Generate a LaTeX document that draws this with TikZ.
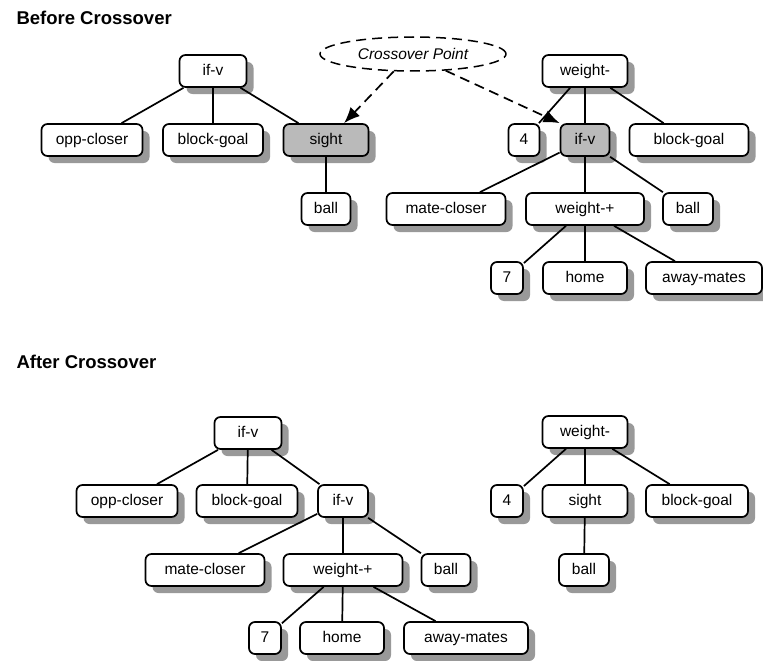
\documentclass[tikz,border=0pt]{standalone}
\usepackage{fontspec}
\setmainfont{Liberation Sans}
\usetikzlibrary{shapes.geometric,shadows,arrows.meta}

\begin{document}
\begin{tikzpicture}[x=1pt, y=-1pt,
    gpnode/.style={draw, line width=1.7pt, rounded corners=6pt, fill=white,
        minimum height=32pt, minimum width=#1, inner sep=0pt,
        text height=11pt, text depth=3pt,
        font=\fontsize{15.5}{18}\selectfont,
        drop shadow={shadow xshift=7pt, shadow yshift=-7pt, fill=black!40, opacity=1}},
    gpnode/.default=60pt,
    picked/.style={fill=black!27},
    branch/.style={line width=1.7pt},
    heading/.style={anchor=west, font=\fontsize{18.5}{22}\selectfont\bfseries},
    pointer/.style={line width=1.7pt, dash pattern=on 10pt off 6pt,
        -{Latex[length=16pt,width=13pt]}}]
            \useasboundingbox (0, 0) rectangle (763, 661);

            % before crossover
            \node[heading] (before) at (13, 18) {Before Crossover};
            \node[ellipse, draw, line width=1.5pt, dash pattern=on 10pt off 6pt,
                minimum width=186pt, minimum height=34pt,
                font=\fontsize{15.5}{18}\selectfont\itshape] (cp) at (413, 54) {Crossover Point};

            \node[gpnode=67pt] (t1) at (213, 71) {if-v};
            \node[gpnode=101pt] (oc1) at (92, 140) {opp-closer};
            \node[gpnode=100pt] (bg1) at (213, 140) {block-goal};
            \node[gpnode=85pt, picked] (si1) at (326, 140) {sight};
            \node[gpnode=49pt] (ba1) at (326, 209) {ball};

            \node[gpnode=85pt] (t2) at (585, 71) {weight-};
            \node[gpnode=31pt] (fo2) at (524, 140) {4};
            \node[gpnode=49pt, picked] (iv2) at (585, 140) {if-v};
            \node[gpnode=119pt] (bg2) at (689, 140) {block-goal};
            \node[gpnode=119pt] (mc2) at (446, 209) {mate-closer};
            \node[gpnode=118pt] (wp2) at (585, 209) {weight-+};
            \node[gpnode=50pt] (ba2) at (688, 209) {ball};
            \node[gpnode=32pt] (se2) at (507, 278) {7};
            \node[gpnode=84pt] (ho2) at (585, 278) {home};
            \node[gpnode=116pt] (am2) at (704, 278) {away-mates};

            \draw[branch] (t1) -- (oc1) (t1) -- (bg1) (t1) -- (si1) (si1) -- (ba1);
            \draw[branch] (t2) -- (fo2) (t2) -- (iv2) (t2) -- (bg2);
            \draw[branch] (iv2) -- (mc2) (iv2) -- (wp2) (iv2) -- (ba2);
            \draw[branch] (wp2) -- (se2) (wp2) -- (ho2) (wp2) -- (am2);

            \draw[pointer] (cp.222) -- (si1.43);
            \draw[pointer] (cp.333) -- (iv2.north west);

            % after crossover
            \node[heading] (after) at (13, 362) {After Crossover};

            \node[gpnode=67pt] (t3) at (248, 433) {if-v};
            \node[gpnode=101pt] (oc3) at (127, 501) {opp-closer};
            \node[gpnode=101pt] (bg3) at (247, 501) {block-goal};
            \node[gpnode=50pt] (iv3) at (343, 501) {if-v};
            \node[gpnode=119pt] (mc3) at (205, 570) {mate-closer};
            \node[gpnode=119pt] (wp3) at (343, 570) {weight-+};
            \node[gpnode=49pt] (ba3) at (446, 570) {ball};
            \node[gpnode=32pt] (se3) at (265, 638) {7};
            \node[gpnode=84pt] (ho3) at (342, 638) {home};
            \node[gpnode=124pt] (am3) at (466, 638) {away-mates};

            \node[gpnode=85pt] (t4) at (585, 432) {weight-};
            \node[gpnode=32pt] (fo4) at (507, 501) {4};
            \node[gpnode=85pt] (si4) at (585, 501) {sight};
            \node[gpnode=102pt] (bg4) at (697, 501) {block-goal};
            \node[gpnode=50pt] (ba4) at (584, 570) {ball};

            \draw[branch] (t3) -- (oc3) (t3) -- (bg3) (t3) -- (iv3);
            \draw[branch] (iv3) -- (mc3) (iv3) -- (wp3) (iv3) -- (ba3);
            \draw[branch] (wp3) -- (se3) (wp3) -- (ho3) (wp3) -- (am3);
            \draw[branch] (t4) -- (fo4) (t4) -- (si4) (t4) -- (bg4) (si4) -- (ba4);
        \end{tikzpicture}
\end{document}
